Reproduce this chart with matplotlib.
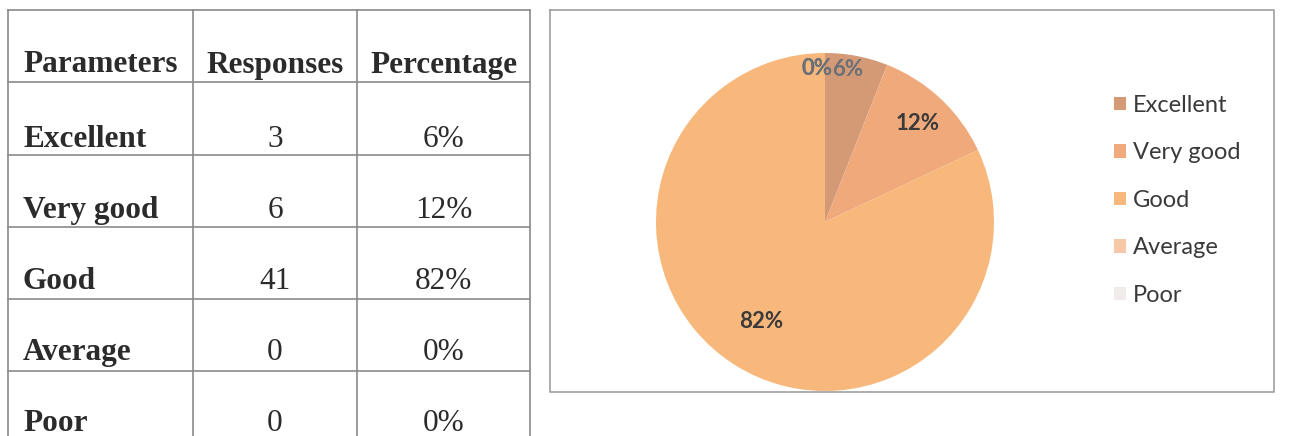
import numpy as np
import matplotlib
matplotlib.use("Agg")
import matplotlib.pyplot as plt

# table data
header = ["Parameters", "Responses", "Percentage"]
params = ["Excellent", "Very good", "Good", "Average", "Poor"]
responses = [3, 6, 41, 0, 0]
percent = ["6%", "12%", "82%", "0%", "0%"]

colors = ["#d49a76", "#efa97b", "#f8b87c", "#f7c9a6", "#efeceb"]

W, H = 1292, 436
fig = plt.figure(figsize=(W / 100, H / 100), dpi=100)
fig.patch.set_facecolor("white")

# background axes in pixel coords (y down)
bg = fig.add_axes([0, 0, 1, 1])
bg.set_xlim(0, W)
bg.set_ylim(H, 0)
bg.axis("off")

# ---- table ----
col_x = [8, 193, 357, 530]
row_y = [10, 82, 155, 227, 299, 371]
line_c = "#8a8a8a"
for x in col_x:
    bg.plot([x, x], [10, H], color=line_c, lw=1.2)
for y in row_y:
    bg.plot([col_x[0], col_x[-1]], [y, y], color=line_c, lw=1.2)

serif = "Liberation Serif"
fs = 22.5
txt_c = "#2b2b2b"
head_y = 65
bg.text(23, head_y, header[0], family=serif, weight="bold", fontsize=fs,
        color=txt_c, va="center", ha="left")
bg.text((col_x[1] + col_x[2]) / 2, head_y, header[1], family=serif, weight="bold",
        fontsize=fs, color=txt_c, va="center", ha="center")
bg.text((col_x[2] + col_x[3]) / 2, head_y, header[2], family=serif, weight="bold",
        fontsize=fs, color=txt_c, va="center", ha="center")

for i, (p, r, pc) in enumerate(zip(params, responses, percent)):
    y = 139 + i * 71
    bg.text(23, y, p, family=serif, weight="bold", fontsize=fs, color=txt_c,
            va="center", ha="left")
    bg.text((col_x[1] + col_x[2]) / 2, y, str(r), family=serif, fontsize=fs,
            color=txt_c, va="center", ha="center")
    bg.text((col_x[2] + col_x[3]) / 2, y, pc, family=serif, fontsize=fs,
            color=txt_c, va="center", ha="center")

# ---- chart box ----
box_c = "#a0a0a0"
bg.plot([550, 1274, 1274, 550, 550], [10, 10, 392, 392, 10], color=box_c, lw=1.2)

# ---- pie ----
cx, cy, r = 825, 222, 169
ax = fig.add_axes([(cx - r) / W, (H - cy - r) / H, 2 * r / W, 2 * r / H])
wedges, _, autotexts = ax.pie(responses, colors=colors, startangle=90,
                              counterclock=False, autopct="%1.0f%%",
                              pctdistance=0.85,
                              wedgeprops=dict(linewidth=0),
                              textprops=dict(family="Lato", weight="bold",
                                             fontsize=16, color="#3a3a3a"))
ax.set_xlim(-1, 1)
ax.set_ylim(-1, 1)
ax.set_aspect("equal")

# nudge label radii like the original best-fit placement
dists = [0.92, 0.80, 0.70, 0.91, 0.91]
for w, t, d in zip(wedges, autotexts, dists):
    ang = np.deg2rad((w.theta1 + w.theta2) / 2)
    if w.theta1 == w.theta2:
        ang = np.deg2rad(w.theta1 + 3)
    t.set_position((d * np.cos(ang), d * np.sin(ang)))
autotexts[0].set_position((autotexts[0].get_position()[0] - 0.04,
                           autotexts[0].get_position()[1]))
for t in (autotexts[0], autotexts[3], autotexts[4]):
    t.set_color("#6a7078")

leg = ax.legend(wedges, params, loc="upper left",
                bbox_to_anchor=(1114 / W, (H - 95) / H),
                bbox_transform=fig.transFigure, frameon=False, borderpad=0,
                borderaxespad=0, handlelength=0.5, handleheight=0.5,
                handletextpad=0.3, labelspacing=1.12,
                prop=dict(family="Lato", size=17))
for t in leg.get_texts():
    t.set_color("#3a3a3a")

fig.savefig("out.png", dpi=100, facecolor="white")
